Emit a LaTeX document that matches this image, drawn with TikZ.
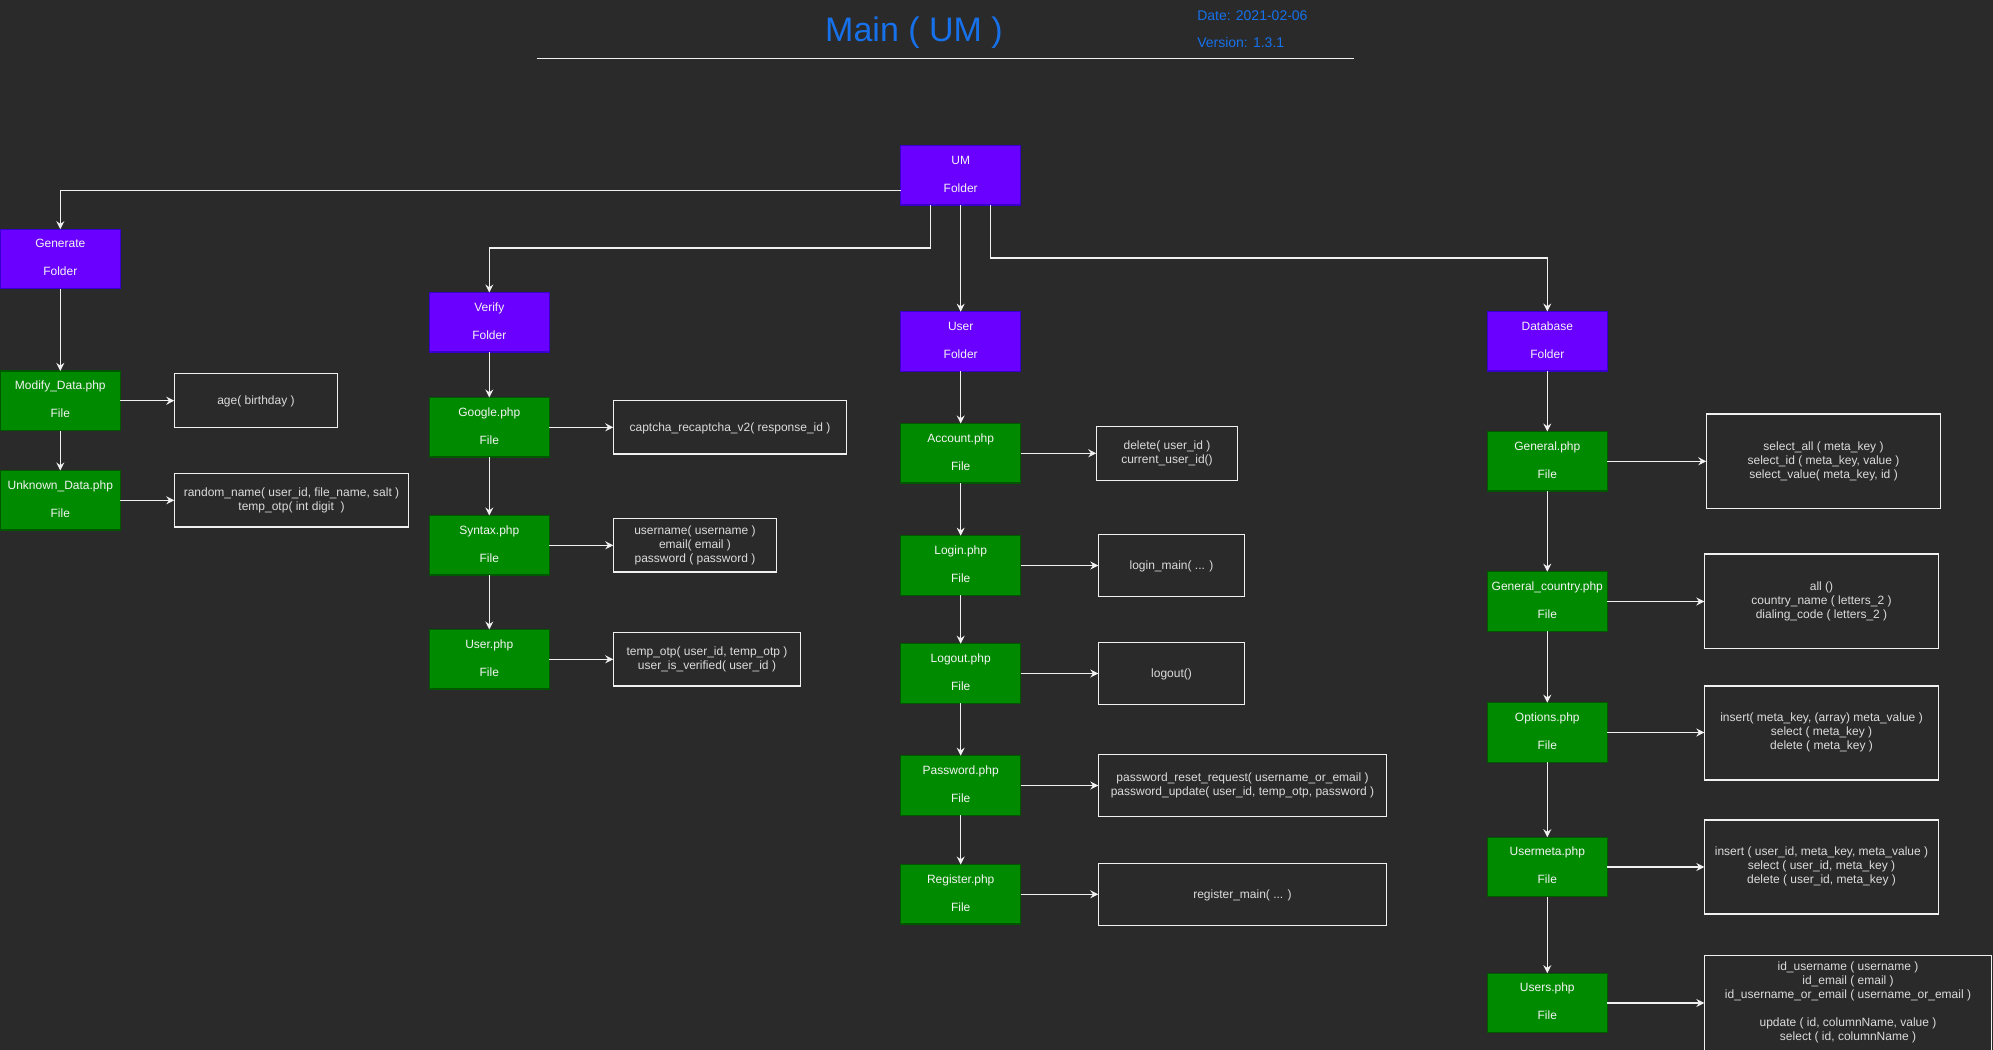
\documentclass[tikz,border=0pt]{standalone}
\usepackage{fontspec}
\setmainfont{Liberation Sans}
\usetikzlibrary{arrows.meta}
\definecolor{bg}{HTML}{2A2A2A}
\definecolor{purp}{HTML}{6A00FF}
\definecolor{purpS}{HTML}{3700CC}
\definecolor{grn}{HTML}{008A00}
\definecolor{grnS}{HTML}{005700}
\definecolor{lineC}{HTML}{F0F0F0}
\definecolor{txtC}{HTML}{F4F4F4}
\definecolor{mtxt}{HTML}{DCDCDC}
\definecolor{ttl}{HTML}{1671EA}
\begin{document}
\begin{tikzpicture}[x=0.75pt,y=-0.75pt,
 base/.style={inner sep=0pt, outer sep=0pt, line width=0.95pt, align=center, font=\fontsize{9}{10.5}\selectfont,
   execute at begin node={\rule{0pt}{8.5pt}}, execute at end node={\rule[-2.05pt]{0pt}{2.05pt}}},
 sz/.style 2 args={minimum width=#1*0.75pt, minimum height=#2*0.75pt},
 folder/.style={base, sz={120}{59.6}, fill=purp, draw=purpS, text=txtC},
 file/.style={base, sz={120}{59.6}, fill=grn, draw=grnS, text=txtC},
 mbox/.style={base, draw=lineC, text=mtxt},
 conn/.style={draw=lineC, line width=0.95pt, -{Stealth[length=6pt,width=6pt,inset=2pt]}},
 hdr/.style={inner sep=0pt, text=ttl}
]
\fill[bg] (0,0) rectangle (1993,1050);
\useasboundingbox (0,0) rectangle (1993,1050);

% header
\node[hdr, anchor=base, font=\fontsize{25.5}{30}\selectfont] (title) at (914,41.5) {Main ( UM )};
\node[hdr, anchor=base west, font=\fontsize{10.5}{12}\selectfont] (date) at (1197,20) {Date: 2021-02-06};
\node[hdr, anchor=base west, font=\fontsize{10.5}{12}\selectfont] (version) at (1197,47.7) {Version: 1.3.1};
\draw[lineC, line width=0.95pt] (536.5,58.3) -- (1354,58.3);

% folders
\node[folder] (um) at (960.7,175.3) {UM\\[10.5pt]Folder};
\node[folder] (gen) at (60.3,259) {Generate\\[10.5pt]Folder};
\node[folder] (ver) at (489.3,322.3) {Verify\\[10.5pt]Folder};
\node[folder] (usr) at (960.7,341.5) {User\\[10.5pt]Folder};
\node[folder] (db) at (1547.3,341.3) {Database\\[10.5pt]Folder};

% Generate files
\node[file] (mod) at (60.3,400.7) {Modify\_Data.php\\[10.5pt]File};
\node[file] (unk) at (60.3,500.3) {Unknown\_Data.php\\[10.5pt]File};
\node[mbox, sz={163.4}{53.3}] (age) at (256,400.5) {age( birthday )};
\node[mbox, sz={234.4}{53.3}] (rnd) at (291.5,500.3) {random\_name( user\_id, file\_name, salt )\\temp\_otp( int digit~~)};

% Verify files
\node[file] (goo) at (489.3,427.3) {Google.php\\[10.5pt]File};
\node[file] (syn) at (489.3,545.3) {Syntax.php\\[10.5pt]File};
\node[file] (vus) at (489.3,659.3) {User.php\\[10.5pt]File};
\node[mbox, sz={233.4}{53.3}] (cap) at (730,427.3) {captcha\_recaptcha\_v2( response\_id )};
\node[mbox, sz={163.4}{53.3}] (unm) at (695,545.3) {username( username )\\email( email )\\password ( password )};
\node[mbox, sz={187.4}{53.3}] (tot) at (707,659.3) {temp\_otp( user\_id, temp\_otp )\\user\_is\_verified( user\_id )};

% User files
\node[file] (acc) at (960.7,453.3) {Account.php\\[10.5pt]File};
\node[file] (lgi) at (960.7,565.5) {Login.php\\[10.5pt]File};
\node[file] (lgo) at (960.7,673.5) {Logout.php\\[10.5pt]File};
\node[file] (pwd) at (960.7,785.5) {Password.php\\[10.5pt]File};
\node[file] (reg) at (960.7,894.3) {Register.php\\[10.5pt]File};
\node[mbox, sz={141.4}{54}] (del) at (1167,453.3) {delete( user\_id )\\current\_user\_id()};
\node[mbox, sz={146.4}{62.4}] (lgm) at (1171.5,565.5) {login\_main( ... )};
\node[mbox, sz={146.4}{62.4}] (lgf) at (1171.5,673.5) {logout()};
\node[mbox, sz={288.4}{62.4}] (pwf) at (1242.5,785.5) {password\_reset\_request( username\_or\_email )\\password\_update( user\_id, temp\_otp, password )};
\node[mbox, sz={288.4}{62.4}] (rgf) at (1242.5,894.5) {register\_main( ... )};

% Database files
\node[file] (gnl) at (1547.3,461.3) {General.php\\[10.5pt]File};
\node[file] (gco) at (1547.3,601.5) {General\_country.php\\[10.5pt]File};
\node[file] (opt) at (1547.3,732.5) {Options.php\\[10.5pt]File};
\node[file] (umt) at (1547.3,867) {Usermeta.php\\[10.5pt]File};
\node[file] (uss) at (1547.3,1003) {Users.php\\[10.5pt]File};
\node[mbox, sz={234.4}{94.3}] (sal) at (1823.5,461.2) {select\_all ( meta\_key )\\select\_id ( meta\_key, value )\\select\_value( meta\_key, id )};
\node[mbox, sz={234.4}{94.5}] (alf) at (1821.5,601.3) {all ()\\country\_name ( letters\_2 )\\dialing\_code ( letters\_2 )};
\node[mbox, sz={234.4}{94}] (imk) at (1821.5,733) {insert( meta\_key, (array) meta\_value )\\select ( meta\_key )\\delete ( meta\_key )};
\node[mbox, sz={234.4}{94}] (iui) at (1821.5,867) {insert ( user\_id, meta\_key, meta\_value )\\select ( user\_id, meta\_key )\\delete ( user\_id, meta\_key )};
\node[mbox, sz={287.4}{95}] (idu) at (1848,1003) {id\_username ( username )\\id\_email ( email )\\id\_username\_or\_email ( username\_or\_email )\\[10.5pt]update ( id, columnName, value )\\select ( id, columnName )};

% connectors from UM
\draw[conn] ([yshift=-11.25pt]um.west) -| (gen.north);
\draw[conn] ([xshift=-22.5pt]um.south) -- ++(0,43) -| (ver.north);
\draw[conn] (um.south) -- (usr.north);
\draw[conn] ([xshift=22.5pt]um.south) -- ++(0,53) -| (db.north);

% Generate
\draw[conn] (gen.south) -- (mod.north);
\draw[conn] (mod.south) -- (unk.north);
\draw[conn] (mod.east) -- (mod.east -| age.west);
\draw[conn] (unk.east) -- (unk.east -| rnd.west);

% Verify
\draw[conn] (ver.south) -- (goo.north);
\draw[conn] (goo.south) -- (syn.north);
\draw[conn] (syn.south) -- (vus.north);
\draw[conn] (goo.east) -- (goo.east -| cap.west);
\draw[conn] (syn.east) -- (syn.east -| unm.west);
\draw[conn] (vus.east) -- (vus.east -| tot.west);

% User
\draw[conn] (usr.south) -- (acc.north);
\draw[conn] (acc.south) -- (lgi.north);
\draw[conn] (lgi.south) -- (lgo.north);
\draw[conn] (lgo.south) -- (pwd.north);
\draw[conn] (pwd.south) -- (reg.north);
\draw[conn] (acc.east) -- (acc.east -| del.west);
\draw[conn] (lgi.east) -- (lgi.east -| lgm.west);
\draw[conn] (lgo.east) -- (lgo.east -| lgf.west);
\draw[conn] (pwd.east) -- (pwd.east -| pwf.west);
\draw[conn] (reg.east) -- (reg.east -| rgf.west);

% Database
\draw[conn] (db.south) -- (gnl.north);
\draw[conn] (gnl.south) -- (gco.north);
\draw[conn] (gco.south) -- (opt.north);
\draw[conn] (opt.south) -- (umt.north);
\draw[conn] (umt.south) -- (uss.north);
\draw[conn] (gnl.east) -- (gnl.east -| sal.west);
\draw[conn] (gco.east) -- (gco.east -| alf.west);
\draw[conn] (opt.east) -- (opt.east -| imk.west);
\draw[conn] (umt.east) -- (umt.east -| iui.west);
\draw[conn] (uss.east) -- (uss.east -| idu.west);
\end{tikzpicture}
\end{document}
